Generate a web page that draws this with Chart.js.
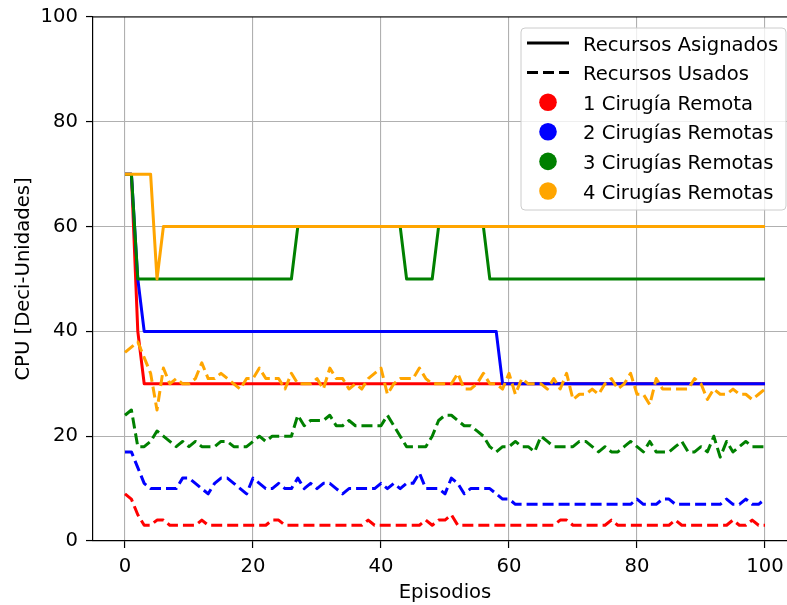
<!DOCTYPE html>
<html>
<head>
<meta charset="utf-8">
<script src="https://cdn.jsdelivr.net/npm/chart.js@4/dist/chart.umd.min.js"></script>
<style>
html,body{margin:0;padding:0;overflow:hidden;background:#fff;width:787px;height:605px;}
canvas{display:block;}
</style>
</head>
<body>
<canvas id="c" width="798" height="605"></canvas>
<script>
// ---------- data ----------
const episodes = Array.from({length: 101}, (_, i) => i);
const xTicks = [0, 20, 40, 60, 80, 100];
const yTicks = [0, 20, 40, 60, 80, 100];

const seriesNames = ['1 Cirugía Remota', '2 Cirugías Remotas', '3 Cirugías Remotas', '4 Cirugías Remotas'];
const styleNames = ['Recursos Asignados', 'Recursos Usados'];
const seriesColors = ['#ff0000', '#0000ff', '#008000', '#ffa500'];

const redAssigned = [
  70,70,40,30,30,30,30,30,30,30, 30,30,30,30,30,30,30,30,30,30,
  30,30,30,30,30,30,30,30,30,30, 30,30,30,30,30,30,30,30,30,30,
  30,30,30,30,30,30,30,30,30,30, 30,30,30,30,30,30,30,30,30,30,
  30,30,30,30,30,30,30,30,30,30, 30,30,30,30,30,30,30,30,30,30,
  30,30,30,30,30,30,30,30,30,30, 30,30,30,30,30,30,30,30,30,30,
  30];
const blueAssigned = [
  70,70,50,40,40,40,40,40,40,40, 40,40,40,40,40,40,40,40,40,40,
  40,40,40,40,40,40,40,40,40,40, 40,40,40,40,40,40,40,40,40,40,
  40,40,40,40,40,40,40,40,40,40, 40,40,40,40,40,40,40,40,40,30,
  30,30,30,30,30,30,30,30,30,30, 30,30,30,30,30,30,30,30,30,30,
  30,30,30,30,30,30,30,30,30,30, 30,30,30,30,30,30,30,30,30,30,
  30];
const greenAssigned = [
  70,70,50,50,50,50,50,50,50,50, 50,50,50,50,50,50,50,50,50,50,
  50,50,50,50,50,50,50,60,60,60, 60,60,60,60,60,60,60,60,60,60,
  60,60,60,60,50,50,50,50,50,60, 60,60,60,60,60,60,60,50,50,50,
  50,50,50,50,50,50,50,50,50,50, 50,50,50,50,50,50,50,50,50,50,
  50,50,50,50,50,50,50,50,50,50, 50,50,50,50,50,50,50,50,50,50,
  50];
const orangeAssigned = [
  70,70,70,70,70,50,60,60,60,60, 60,60,60,60,60,60,60,60,60,60,
  60,60,60,60,60,60,60,60,60,60, 60,60,60,60,60,60,60,60,60,60,
  60,60,60,60,60,60,60,60,60,60, 60,60,60,60,60,60,60,60,60,60,
  60,60,60,60,60,60,60,60,60,60, 60,60,60,60,60,60,60,60,60,60,
  60,60,60,60,60,60,60,60,60,60, 60,60,60,60,60,60,60,60,60,60,
  60];

const redUsed = [
  9,8,5,3,3,4,4,3,3,3, 3,3,4,3,3,3,3,3,3,3,
  3,3,3,4,4,3,3,3,3,3, 3,3,3,3,3,3,3,3,4,3,
  3,3,3,3,3,3,3,4,3,4, 4,5,3,3,3,3,3,3,3,3,
  3,3,3,3,3,3,3,3,4,4, 3,3,3,3,3,3,4,3,3,3,
  3,3,3,3,3,3,4,3,3,3, 3,3,3,3,3,4,3,3,4,3,
  3];
const blueUsed = [
  17,17,14,11,10,10,10,10,10,12, 12,11,10,9,11,12,12,11,10,9,
  12,11,10,10,11,10,10,12,10,11, 10,11,11,10,9,10,10,10,10,10,
  11,10,11,10,11,11,13,10,10,10, 9,12,11,9,10,10,10,10,9,8,
  8,7,7,7,7,7,7,7,7,7, 7,7,7,7,7,7,7,7,7,7,
  8,7,7,7,8,8,7,7,7,7, 7,7,7,7,8,7,7,8,7,7,
  8];
const greenUsed = [
  24,25,18,18,19,21,20,19,18,19, 18,19,18,18,18,19,19,18,18,18,
  19,20,19,20,20,20,20,24,22,23, 23,23,24,22,22,23,22,22,22,22,
  22,24,22,20,18,18,18,18,20,23, 24,24,23,22,22,21,20,18,17,18,
  18,19,18,18,17,20,19,18,18,18, 18,19,19,18,17,18,17,17,18,19,
  18,17,19,17,17,17,18,19,17,17, 18,17,20,16,19,17,18,19,18,18,
  18];
const orangeUsed = [
  36,37,38,35,32,25,33,30,31,30, 30,31,34,31,31,32,31,30,29,31,
  31,33,31,31,31,29,32,30,30,30, 31,29,33,31,31,29,30,29,31,32,
  33,28,30,31,31,31,33,31,30,30, 30,30,32,29,29,30,32,30,30,29,
  32,28,31,30,30,30,29,31,29,32, 27,28,28,29,28,30,31,29,30,32,
  28,28,26,31,29,29,29,29,29,31, 30,27,29,28,28,29,28,28,27,28,
  29];

const assignedSeries = [redAssigned, blueAssigned, greenAssigned, orangeAssigned];
const usedSeries = [redUsed, blueUsed, greenUsed, orangeUsed];

// ---------- chart ----------
const FONT = 'DejaVu Sans';
const FS = 19.6;
const LW = 3;
const DASH = [11, 5];
const TARGET_TOP = 17;
Chart.defaults.font.family = FONT;
Chart.defaults.color = '#000';

const toPts = arr => arr.map((v, i) => ({x: episodes[i], y: v}));

const datasets = [];
seriesColors.forEach((col, k) => {
  datasets.push({
    label: seriesNames[k] + ' - ' + styleNames[0],
    data: toPts(assignedSeries[k]),
    borderColor: col, backgroundColor: col, borderWidth: LW,
    order: 8 - 2 * k
  });
  datasets.push({
    label: seriesNames[k] + ' - ' + styleNames[1],
    data: toPts(usedSeries[k]),
    borderColor: col, backgroundColor: col, borderWidth: LW,
    borderDash: DASH,
    order: 7 - 2 * k
  });
});

const framePlugin = {
  id: 'frame',
  afterDatasetsDraw(chart) {
    const {ctx, chartArea: a} = chart;
    ctx.save();
    ctx.strokeStyle = '#000';
    ctx.lineWidth = 1.2;
    ctx.beginPath();
    ctx.moveTo(a.left, a.top);
    ctx.lineTo(a.right, a.top);
    ctx.stroke();
    ctx.restore();
  }
};

const legendPlugin = {
  id: 'innerLegend',
  afterDraw(chart) {
    const {ctx, chartArea: a} = chart;
    const w = 265, h = 182;
    const right = a.right - 11, top = a.top + 11;
    const left = right - w;
    ctx.save();
    const r = 4;
    ctx.beginPath();
    ctx.moveTo(left + r, top);
    ctx.lineTo(left + w - r, top);
    ctx.arcTo(left + w, top, left + w, top + r, r);
    ctx.lineTo(left + w, top + h - r);
    ctx.arcTo(left + w, top + h, left + w - r, top + h, r);
    ctx.lineTo(left + r, top + h);
    ctx.arcTo(left, top + h, left, top + h - r, r);
    ctx.lineTo(left, top + r);
    ctx.arcTo(left, top, left + r, top, r);
    ctx.closePath();
    ctx.fillStyle = 'rgba(255,255,255,0.8)';
    ctx.fill();
    ctx.strokeStyle = '#cccccc';
    ctx.lineWidth = 1;
    ctx.stroke();

    const labels = styleNames.concat(seriesNames);
    const textX = left + 62;
    const hx0 = left + 6, hx1 = left + 48, hcx = left + 27;
    ctx.font = FS + 'px "' + FONT + '"';
    ctx.textBaseline = 'alphabetic';
    ctx.textAlign = 'left';
    labels.forEach((lab, i) => {
      const base = top + 22.5 + i * 29.6;
      const cy = base - 7.5;
      if (i === 0 || i === 1) {
        ctx.strokeStyle = '#000';
        ctx.lineWidth = LW;
        ctx.setLineDash(i === 1 ? DASH : []);
        ctx.beginPath();
        ctx.moveTo(hx0, cy);
        ctx.lineTo(hx1, cy);
        ctx.stroke();
        ctx.setLineDash([]);
      } else {
        ctx.fillStyle = seriesColors[i - 2];
        ctx.beginPath();
        ctx.arc(hcx, cy, 8.8, 0, Math.PI * 2);
        ctx.fill();
      }
      ctx.fillStyle = '#000';
      ctx.fillText(lab, textX, base);
    });
    ctx.restore();
  }
};

const chart = new Chart(document.getElementById('c'), {
  type: 'line',
  data: {datasets},
  options: {
    responsive: false,
    animation: false,
    devicePixelRatio: 1,
    layout: {autoPadding: false, padding: {top: TARGET_TOP, right: 1, left: 0, bottom: 0}},
    plugins: {legend: {display: false}, tooltip: {enabled: false}},
    elements: {
      point: {radius: 0, hoverRadius: 0},
      line: {tension: 0, borderJoinStyle: 'round', borderCapStyle: 'butt', fill: false}
    },
    scales: {
      x: {
        type: 'linear', min: -5, max: 105,
        afterBuildTicks: s => { s.ticks = xTicks.map(v => ({value: v})); },
        afterFit: s => { s.height = 64; s.paddingLeft = 0; s.paddingRight = 0; },
        grid: {color: '#b0b0b0', lineWidth: 1.1, tickLength: 7, tickColor: '#000', tickWidth: 1.2},
        border: {color: '#000', width: 1.2},
        ticks: {font: {size: FS}, padding: 7, maxRotation: 0, autoSkip: false, color: '#000'},
        title: {display: true, text: 'Episodios', font: {size: FS}, color: '#000', padding: {top: 0, bottom: 0}}
      },
      y: {
        type: 'linear', min: 0, max: 100,
        afterBuildTicks: s => { s.ticks = yTicks.map(v => ({value: v})); },
        afterFit: s => { s.width = 93; s.paddingTop = 0; s.paddingBottom = 0; },
        grid: {color: '#b0b0b0', lineWidth: 1.1, tickLength: 7, tickColor: '#000', tickWidth: 1.2},
        border: {color: '#000', width: 1.2},
        ticks: {font: {size: FS}, padding: 8, color: '#000'},
        title: {display: true, text: 'CPU [Deci-Unidades]', font: {size: FS}, color: '#000', padding: {top: 12.5, bottom: 0}}
      }
    }
  },
  plugins: [framePlugin, legendPlugin]
});
// make sure the plot area starts exactly at the intended top
const dTop = chart.chartArea.top - TARGET_TOP;
if (Math.abs(dTop) > 0.05) {
  chart.options.layout.padding.top = Math.max(0, TARGET_TOP - dTop);
  chart.update();
}
</script>
</body>
</html>
